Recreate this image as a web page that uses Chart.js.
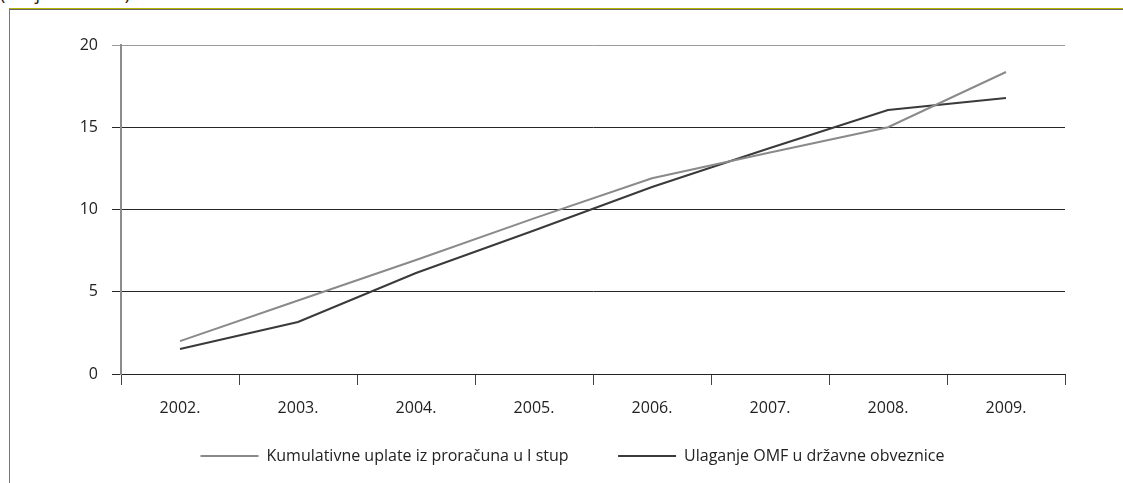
<!DOCTYPE html>
<html>
<head>
<meta charset="utf-8">
<script src="https://cdn.jsdelivr.net/npm/chart.js@4.4.1/dist/chart.umd.min.js"></script>
<style>
  body { margin: 0; background: #fff; width: 1123px; height: 483px; overflow: hidden; position: relative; }
  #unit { position: absolute; left: 0; top: -19px; font: 18px "Open Sans"; color: #222; }
  #frame { position: absolute; left: 9px; top: 8px; width: 1114px; height: 475px;
           border-top: 1px solid #b8b400; border-left: 1px solid #777; }
  #frame:before { content: ""; position: absolute; left: 0; top: 0; right: 0; height: 1px; background: #666; }
  #box { position: absolute; left: 10px; top: 10px; width: 1113px; height: 473px; }
</style>
</head>
<body>
<div id="unit">(milijarde kuna)</div>
<div id="frame"></div>
<div id="box"><canvas id="lineChart"></canvas></div>
<script>
let years = ["2002.", "2003.", "2004.", "2005.", "2006.", "2007.", "2008.", "2009."]
let uplate = [2.0, 4.47, 6.93, 9.46, 11.9, 13.47, 15.0, 18.36]
let omf = [1.52, 3.16, 6.14, 8.72, 11.37, 13.74, 16.05, 16.78]
let yTicks = [0, 5, 10, 15, 20]

let ctx = document.getElementById("lineChart")
let myChart = new Chart(ctx, {
    type: 'line',
    data: {
        labels: years,
        datasets: [{
            label: 'Kumulativne uplate iz proračuna u I stup',
            data: uplate,
            borderColor: '#8a8a8a',
            backgroundColor: '#8a8a8a',
            borderWidth: 2,
            pointRadius: 0,
            tension: 0
        }, {
            label: 'Ulaganje OMF u državne obveznice',
            data: omf,
            borderColor: '#3a3a3a',
            backgroundColor: '#3a3a3a',
            borderWidth: 2,
            pointRadius: 0,
            tension: 0
        }]
    },
    options: {
        responsive: true,
        maintainAspectRatio: false,
        animation: false,
        layout: {
            padding: {left: 70, right: 58, top: 35, bottom: 9}
        },
        plugins: {
            tooltip: {enabled: false},
            legend: {
                position: 'bottom',
                labels: {
                    color: '#222',
                    font: {family: 'Open Sans', size: 16},
                    usePointStyle: true,
                    pointStyle: 'line',
                    pointStyleWidth: 58,
                    padding: 12,
                    generateLabels: function(chart) {
                        let items = Chart.defaults.plugins.legend.labels.generateLabels(chart)
                        items.forEach(function(it, i) {
                            it.pointStyle = 'line'
                            it.lineWidth = 2
                            if (i == 0) it.text = it.text + '         '
                        })
                        return items
                    }
                }
            }
        },
        scales: {
            x: {
                offset: true,
                border: {display: true, color: '#222', width: 1},
                grid: {
                    offset: true,
                    drawOnChartArea: false,
                    tickLength: 11,
                    color: '#444'
                },
                ticks: {
                    color: '#222',
                    font: {family: 'Open Sans', size: 16},
                    padding: 14,
                    maxRotation: 0
                },
                afterFit: function(scale) { scale.height = 62 }
            },
            y: {
                min: 0,
                max: 20,
                afterBuildTicks: function(scale) {
                    scale.ticks = yTicks.map(function(v) { return {value: v} })
                },
                border: {display: true, color: '#8c8c8c', width: 2},
                grid: {
                    tickLength: 9,
                    lineWidth: 1,
                    color: function(c) { return c.tick && c.tick.value == 20 ? '#9a9a9a' : '#262626' }
                },
                ticks: {
                    color: '#222',
                    font: {family: 'Open Sans', size: 16},
                    padding: 14
                },
                afterFit: function(scale) { scale.width = 41 }
            }
        }
    }
})
</script>
</body>
</html>
